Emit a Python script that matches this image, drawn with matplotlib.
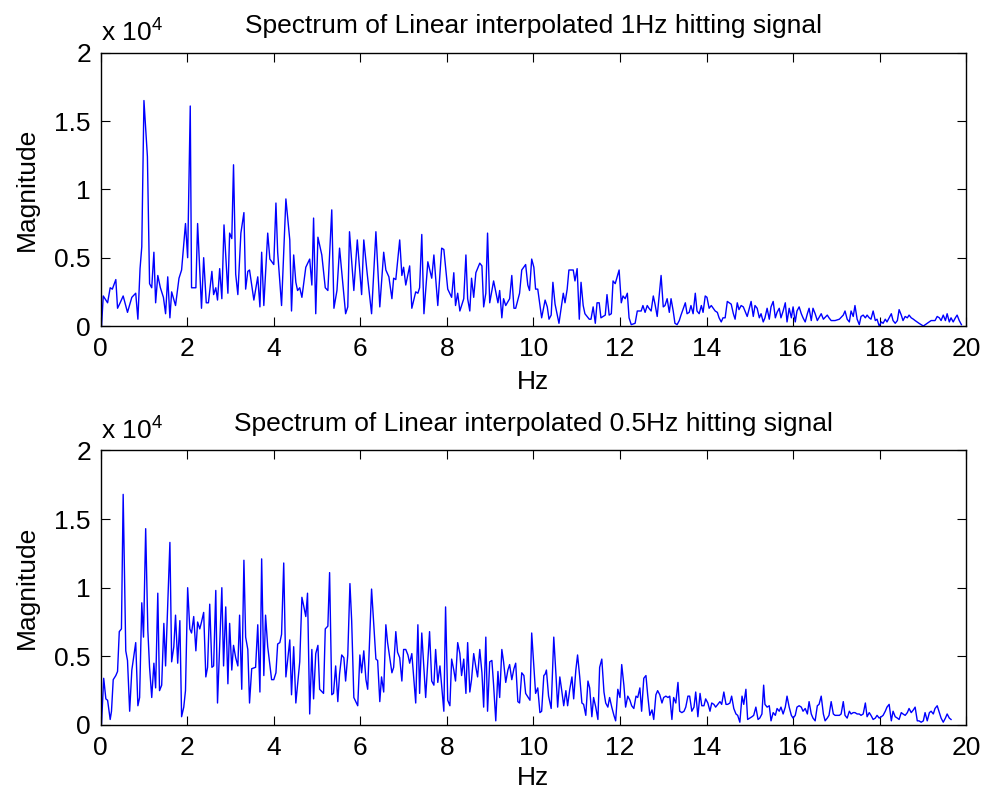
import numpy as np
import matplotlib.pyplot as plt

plt.rcParams['font.family'] = ['Liberation Sans', 'DejaVu Sans']
plt.rcParams['mathtext.fontset'] = 'custom'
plt.rcParams['mathtext.rm'] = 'Liberation Sans'

# spectrum of the 1 Hz signal: frequency [Hz] and magnitude [x 1e4]
top_hz = [
    0.02, 0.06, 0.16, 0.22, 0.27, 0.35, 0.39, 0.45, 0.52, 0.62,
    0.72, 0.81, 0.86, 0.91, 0.95, 1.00, 1.08, 1.13, 1.18, 1.23,
    1.27, 1.32, 1.38, 1.45, 1.50, 1.55, 1.60, 1.64, 1.73, 1.81,
    1.87, 1.96, 2.01, 2.07, 2.10, 2.20, 2.24, 2.33, 2.38, 2.44,
    2.49, 2.57, 2.61, 2.66, 2.70, 2.75, 2.80, 2.85, 2.94, 2.98,
    3.03, 3.07, 3.12, 3.17, 3.24, 3.31, 3.35, 3.40, 3.44, 3.54,
    3.63, 3.68, 3.72, 3.77, 3.86, 3.91, 4.00, 4.05, 4.09, 4.18,
    4.28, 4.37, 4.41, 4.46, 4.51, 4.55, 4.60, 4.65, 4.74, 4.83,
    4.88, 4.92, 4.97, 5.02, 5.11, 5.19,
    5.25, 5.34, 5.39, 5.46, 5.52, 5.60, 5.66, 5.71, 5.75, 5.85,
    5.93, 6.03, 6.08, 6.16, 6.26, 6.36, 6.45, 6.54, 6.59, 6.66,
    6.73, 6.77, 6.82, 6.91, 6.96, 7.00, 7.05, 7.14, 7.19, 7.28,
    7.33, 7.37, 7.42, 7.47, 7.56, 7.65, 7.70, 7.79, 7.88, 7.93,
    8.02, 8.11, 8.16, 8.20, 8.25, 8.30, 8.39, 8.44, 8.48, 8.53,
    8.57, 8.62, 8.67, 8.76, 8.81, 8.85, 8.90, 8.94, 8.99, 9.08,
    9.18, 9.22, 9.27, 9.31, 9.36, 9.45, 9.50, 9.55, 9.59, 9.68,
    9.73, 9.82, 9.87, 9.91, 9.96, 10.01, 10.05, 10.10, 10.19, 10.27,
    10.32, 10.36, 10.41, 10.45, 10.50, 10.59, 10.69, 10.73, 10.78, 10.82,
    10.92, 10.96, 11.01, 11.06, 11.10, 11.15, 11.19, 11.29, 11.33, 11.38,
    11.43, 11.47, 11.52, 11.56, 11.66, 11.70, 11.75, 11.80, 11.84, 11.89,
    11.98, 12.03, 12.07, 12.12, 12.17, 12.21, 12.26, 12.35, 12.40, 12.49,
    12.53, 12.58, 12.63, 12.67, 12.72, 12.77, 12.81, 12.86, 12.95, 13.00,
    13.04, 13.09, 13.14, 13.18, 13.23, 13.27, 13.32, 13.37, 13.41, 13.51,
    13.55, 13.60, 13.64, 13.69, 13.74, 13.78, 13.83, 13.88, 13.92, 13.97,
    14.01, 14.06, 14.11, 14.20, 14.25, 14.29, 14.34, 14.38, 14.43, 14.48,
    14.57, 14.62, 14.66, 14.71, 14.75, 14.80, 14.85, 14.94, 15.03, 15.08,
    15.12, 15.17, 15.22, 15.26, 15.31, 15.35,
    15.40, 15.45, 15.49, 15.54, 15.59, 15.63, 15.68, 15.72, 15.77, 15.82,
    15.86, 15.91, 15.96, 16.00, 16.05, 16.09, 16.14, 16.19, 16.23, 16.28,
    16.33, 16.37, 16.42, 16.46, 16.51, 16.56, 16.65, 16.70, 16.79, 16.83,
    16.88, 16.97, 17.07, 17.16, 17.20, 17.25, 17.30, 17.34, 17.39, 17.43,
    17.48, 17.53, 17.57, 17.62, 17.67, 17.71, 17.76, 17.80, 17.85, 17.90,
    17.94, 17.99, 18.04, 18.08, 18.13, 18.17, 18.22, 18.27, 18.31, 18.36,
    18.41, 18.45, 18.50, 18.54, 18.59, 18.64, 18.68, 18.73, 18.78, 18.82,
    18.91, 19.01, 19.10, 19.19, 19.28, 19.33, 19.38, 19.42, 19.47, 19.52,
    19.56, 19.61, 19.65, 19.70, 19.75, 19.79, 19.84, 19.89,
]
top_mag = [
    0.00, 0.22, 0.17, 0.28, 0.27, 0.34, 0.13, 0.17, 0.22, 0.10,
    0.21, 0.24, 0.05, 0.42, 0.58, 1.65, 1.24, 0.31, 0.28, 0.54,
    0.17, 0.37, 0.28, 0.21, 0.09, 0.36, 0.06, 0.25, 0.15, 0.35,
    0.41, 0.75, 0.50, 1.61, 0.28, 0.28, 0.75, 0.13, 0.50, 0.17,
    0.17, 0.40, 0.23, 0.28, 0.19, 0.42, 0.20, 0.74, 0.24, 0.68,
    0.64, 1.18, 0.38, 0.23, 0.68, 0.83, 0.27, 0.40, 0.41, 0.19,
    0.36, 0.14, 0.54, 0.15, 0.68, 0.49, 0.45, 0.90, 0.54, 0.15,
    0.93, 0.63, 0.11, 0.52, 0.32, 0.26, 0.28, 0.21, 0.43, 0.49,
    0.30, 0.79, 0.09, 0.65, 0.52, 0.28,
    0.26, 0.85, 0.13, 0.26, 0.57, 0.30, 0.09, 0.14, 0.69, 0.26,
    0.63, 0.23, 0.63, 0.38, 0.09, 0.69, 0.14, 0.54, 0.41, 0.36,
    0.20, 0.35, 0.34, 0.63, 0.37, 0.43, 0.30, 0.44, 0.13, 0.25,
    0.24, 0.28, 0.67, 0.09, 0.47, 0.35, 0.52, 0.15, 0.57, 0.56,
    0.27, 0.21, 0.39, 0.15, 0.24, 0.11, 0.20, 0.52, 0.20, 0.11,
    0.35, 0.21, 0.39, 0.46, 0.44, 0.14, 0.24, 0.68, 0.17, 0.33,
    0.17, 0.26, 0.06, 0.20, 0.15, 0.20, 0.37, 0.13, 0.13, 0.24,
    0.41, 0.45, 0.30, 0.26, 0.49, 0.43, 0.27, 0.27, 0.06, 0.19,
    0.14, 0.05, 0.08, 0.32, 0.16, 0.02, 0.24, 0.17, 0.27, 0.41,
    0.41, 0.33, 0.42, 0.05, 0.32, 0.15, 0.09, 0.05, 0.05, 0.14,
    0.02, 0.17, 0.17, 0.06, 0.08, 0.23, 0.08, 0.09, 0.33, 0.31,
    0.41, 0.17, 0.22, 0.20, 0.24, 0.06, 0.01, 0.02, 0.11, 0.11,
    0.15, 0.10, 0.15, 0.13, 0.11, 0.22, 0.16, 0.07, 0.37, 0.14,
    0.15, 0.20, 0.10, 0.20, 0.11, 0.02, 0.01, 0.04, 0.08, 0.17,
    0.09, 0.10, 0.15, 0.09, 0.24, 0.11, 0.09, 0.15, 0.10, 0.22,
    0.21, 0.13, 0.15, 0.11, 0.10, 0.06, 0.03, 0.06, 0.06, 0.18,
    0.16, 0.09, 0.05, 0.17, 0.12, 0.15, 0.14, 0.07, 0.18, 0.07,
    0.15, 0.13, 0.06, 0.09, 0.03, 0.06,
    0.13, 0.05, 0.14, 0.18, 0.06, 0.10, 0.13, 0.06, 0.11, 0.17,
    0.03, 0.13, 0.06, 0.14, 0.03, 0.11, 0.14, 0.09, 0.06, 0.03,
    0.09, 0.13, 0.04, 0.13, 0.09, 0.04, 0.09, 0.05, 0.08, 0.06,
    0.04, 0.04, 0.05, 0.08, 0.11, 0.05, 0.03, 0.11, 0.07, 0.15,
    0.05, 0.01, 0.07, 0.08, 0.06, 0.08, 0.06, 0.05, 0.11, 0.04,
    0.05, 0.00, 0.03, 0.02, 0.05, 0.03, 0.06, 0.09, 0.04, 0.02,
    0.04, 0.12, 0.08, 0.04, 0.07, 0.06, 0.08, 0.06, 0.05, 0.04,
    0.02, 0.00, 0.02, 0.04, 0.04, 0.07, 0.06, 0.04, 0.08, 0.04,
    0.09, 0.03, 0.06, 0.03, 0.06, 0.08, 0.04, 0.01,
]

# spectrum of the 0.5 Hz signal
bot_hz = [
    0.02, 0.07, 0.12, 0.16, 0.22, 0.25, 0.29, 0.35, 0.39, 0.43,
    0.48, 0.52, 0.58, 0.62, 0.67, 0.72, 0.81, 0.86, 0.90, 0.95,
    0.99, 1.04, 1.09, 1.13, 1.18, 1.23, 1.27, 1.32, 1.36, 1.41,
    1.46, 1.50, 1.60, 1.64, 1.69, 1.73, 1.78, 1.83, 1.87, 1.92,
    1.96, 2.01, 2.06, 2.10, 2.15, 2.20, 2.24, 2.29, 2.33, 2.38,
    2.43, 2.47, 2.52, 2.57, 2.61, 2.66, 2.70, 2.80, 2.84, 2.89,
    2.94, 2.98, 3.03, 3.07, 3.12, 3.17, 3.21, 3.26, 3.31, 3.35,
    3.40, 3.44, 3.49, 3.58, 3.63, 3.68, 3.72, 3.77, 3.81, 3.86,
    3.95, 4.00, 4.05, 4.09, 4.14, 4.18, 4.23, 4.28, 4.37, 4.41,
    4.46, 4.51, 4.60, 4.65, 4.69, 4.74, 4.78, 4.83, 4.88, 4.92,
    4.97, 5.02, 5.06, 5.15, 5.19,
    5.25, 5.29, 5.34, 5.38, 5.43, 5.48, 5.52, 5.57, 5.62, 5.66,
    5.71, 5.76, 5.80, 5.85, 5.94, 5.99, 6.03, 6.08, 6.13, 6.17,
    6.26, 6.36, 6.40, 6.45, 6.49, 6.54, 6.59, 6.63, 6.68, 6.73,
    6.77, 6.82, 6.86, 6.91, 6.96, 7.00, 7.05, 7.10, 7.14, 7.19,
    7.28, 7.33, 7.37, 7.42, 7.51, 7.60, 7.65, 7.70, 7.74, 7.79,
    7.84, 7.93, 7.97, 8.02, 8.07, 8.11, 8.16, 8.20, 8.25, 8.30,
    8.34, 8.39, 8.44, 8.48, 8.53, 8.57, 8.62, 8.67, 8.71, 8.76,
    8.81, 8.85, 8.90, 8.94, 8.99, 9.04, 9.08, 9.13, 9.18, 9.22,
    9.27, 9.31, 9.36, 9.41, 9.45, 9.50, 9.55, 9.59, 9.64, 9.68,
    9.73, 9.78, 9.82, 9.92, 9.96, 10.05, 10.10, 10.15, 10.19, 10.24,
    10.27,
    10.30, 10.35, 10.41, 10.47, 10.52, 10.56, 10.61, 10.65, 10.70, 10.75,
    10.79, 10.84, 10.89, 10.93, 10.98, 11.02, 11.07, 11.12, 11.16, 11.21,
    11.26, 11.30, 11.35, 11.39, 11.44, 11.49, 11.53, 11.58, 11.63, 11.67,
    11.72, 11.76, 11.81, 11.86, 11.90, 11.95, 12.00, 12.04, 12.09, 12.13,
    12.18, 12.23, 12.27, 12.32, 12.37, 12.41, 12.46, 12.50, 12.55, 12.60,
    12.64, 12.69, 12.74, 12.78, 12.83, 12.87, 12.92, 12.97, 13.01, 13.06,
    13.11, 13.15, 13.20, 13.24, 13.29, 13.34, 13.38, 13.43, 13.48, 13.52,
    13.57, 13.61, 13.66, 13.71, 13.75, 13.80, 13.85, 13.89, 13.94, 13.98,
    14.03, 14.08, 14.12, 14.17, 14.21, 14.26, 14.31, 14.35, 14.40, 14.45,
    14.49, 14.54, 14.58, 14.63, 14.68, 14.72, 14.77, 14.82, 14.86, 14.91,
    14.95, 15.00, 15.05, 15.09, 15.14, 15.19, 15.23, 15.28, 15.32, 15.35,
    15.40, 15.45, 15.49, 15.54, 15.59, 15.63, 15.68, 15.72, 15.77, 15.82,
    15.86, 15.91, 15.96, 16.00, 16.05, 16.09, 16.14, 16.19, 16.23, 16.28,
    16.33, 16.37, 16.42, 16.46, 16.51, 16.56, 16.60, 16.65, 16.70, 16.74,
    16.79, 16.83, 16.88, 16.93, 16.97, 17.02, 17.07, 17.11, 17.16, 17.20,
    17.25, 17.30, 17.34, 17.39, 17.43, 17.48, 17.53, 17.57, 17.62, 17.67,
    17.71, 17.76, 17.80, 17.85, 17.90, 17.94, 17.99, 18.04, 18.08, 18.13,
    18.17, 18.22, 18.27, 18.31, 18.36, 18.41, 18.45, 18.50, 18.54, 18.59,
    18.64, 18.68, 18.73, 18.78, 18.82, 18.87, 18.91, 18.96, 19.01, 19.05,
    19.10, 19.15, 19.19, 19.24, 19.28, 19.33, 19.38, 19.42, 19.47, 19.52,
    19.56, 19.61, 19.65,
]
bot_mag = [
    0.01, 0.34, 0.19, 0.18, 0.04, 0.10, 0.33, 0.36, 0.39, 0.68,
    0.70, 1.68, 0.54, 0.47, 0.10, 0.40, 0.60, 0.14, 0.20, 0.89,
    0.64, 1.43, 0.69, 0.42, 0.20, 0.45, 0.27, 0.96, 0.25, 0.29,
    0.74, 0.43, 1.33, 0.46, 0.57, 0.80, 0.45, 0.76, 0.06, 0.13,
    0.25, 1.00, 0.70, 0.67, 0.79, 0.54, 0.75, 0.70, 0.75, 0.82,
    0.35, 0.42, 0.88, 0.42, 0.43, 0.98, 0.16, 1.00, 0.43, 0.86,
    0.30, 0.74, 0.40, 0.58, 0.49, 0.43, 0.80, 0.26, 1.20, 0.64,
    0.55, 0.16, 0.41, 0.42, 0.73, 0.24, 1.21, 0.36, 0.80, 0.57,
    0.33, 0.33, 0.38, 0.59, 0.60, 0.66, 1.18, 0.35, 0.62, 0.22,
    0.57, 0.16, 0.46, 0.93, 0.87, 0.79, 0.96, 0.08, 0.55, 0.19,
    0.52, 0.58, 0.26, 0.23, 0.70,
    0.72, 1.11, 0.22, 0.23, 0.43, 0.17, 0.37, 0.51, 0.49, 0.32,
    0.51, 1.03, 0.76, 0.20, 0.14, 0.51, 0.38, 0.54, 0.33, 0.26,
    0.99, 0.48, 0.47, 0.17, 0.35, 0.24, 0.73, 0.60, 0.49, 0.38,
    0.42, 0.68, 0.53, 0.49, 0.32, 0.55, 0.55, 0.51, 0.45, 0.52,
    0.16, 0.73, 0.23, 0.67, 0.20, 0.68, 0.32, 0.29, 0.55, 0.31,
    0.43, 0.10, 0.86, 0.18, 0.14, 0.48, 0.40, 0.32, 0.60, 0.52,
    0.36, 0.48, 0.23, 0.60, 0.24, 0.33, 0.52, 0.42, 0.35, 0.55,
    0.38, 0.13, 0.64, 0.10, 0.46, 0.47, 0.29, 0.03, 0.39, 0.20,
    0.55, 0.46, 0.31, 0.40, 0.44, 0.33, 0.41, 0.45, 0.17, 0.16,
    0.38, 0.36, 0.23, 0.18, 0.67, 0.23, 0.27, 0.09, 0.10, 0.36,
    0.37,
    0.40, 0.21, 0.12, 0.64, 0.37, 0.13, 0.35, 0.26, 0.14, 0.25,
    0.14, 0.26, 0.35, 0.19, 0.40, 0.51, 0.35, 0.16, 0.15, 0.07,
    0.32, 0.27, 0.06, 0.20, 0.13, 0.04, 0.42, 0.48, 0.24, 0.16,
    0.13, 0.20, 0.13, 0.07, 0.03, 0.26, 0.20, 0.44, 0.29, 0.13,
    0.21, 0.18, 0.14, 0.12, 0.21, 0.20, 0.27, 0.10, 0.34, 0.36,
    0.22, 0.07, 0.11, 0.04, 0.22, 0.25, 0.22, 0.16, 0.20, 0.21,
    0.20, 0.21, 0.04, 0.20, 0.16, 0.31, 0.10, 0.09, 0.10, 0.13,
    0.21, 0.21, 0.10, 0.13, 0.24, 0.06, 0.23, 0.14, 0.14, 0.19,
    0.16, 0.10, 0.16, 0.15, 0.13, 0.15, 0.17, 0.15, 0.24, 0.15,
    0.15, 0.16, 0.21, 0.12, 0.08, 0.07, 0.02, 0.21, 0.15, 0.26,
    0.04, 0.05, 0.06, 0.07, 0.13, 0.04, 0.05, 0.08, 0.29, 0.15,
    0.13, 0.14, 0.03, 0.09, 0.07, 0.12, 0.10, 0.13, 0.08, 0.13,
    0.21, 0.13, 0.07, 0.05, 0.07, 0.13, 0.14, 0.13, 0.10, 0.12,
    0.08, 0.17, 0.08, 0.05, 0.03, 0.14, 0.15, 0.21, 0.08, 0.03,
    0.05, 0.07, 0.17, 0.08, 0.07, 0.07, 0.07, 0.08, 0.17, 0.07,
    0.05, 0.10, 0.08, 0.09, 0.09, 0.08, 0.08, 0.07, 0.08, 0.16,
    0.06, 0.09, 0.07, 0.04, 0.05, 0.07, 0.05, 0.06, 0.07, 0.10,
    0.13, 0.15, 0.03, 0.10, 0.06, 0.05, 0.04, 0.09, 0.08, 0.07,
    0.09, 0.12, 0.09, 0.11, 0.13, 0.03, 0.03, 0.02, 0.03, 0.09,
    0.03, 0.09, 0.10, 0.08, 0.12, 0.14, 0.09, 0.05, 0.02, 0.05,
    0.08, 0.05, 0.04,
]

titles = ['Spectrum of Linear interpolated 1Hz hitting signal',
          'Spectrum of Linear interpolated 0.5Hz hitting signal']
xticks = np.arange(0, 21, 2)
yticks = [0, 0.5e4, 1e4, 1.5e4, 2e4]
ytick_labels = ['0', '0.5', '1', '1.5', '2']

fs = 19
fig = plt.figure(figsize=(9.85, 7.95), dpi=100)
ax1 = fig.add_axes([0.1022, 0.5899, 0.8787, 0.3438])
ax2 = fig.add_axes([0.1022, 0.0881, 0.8787, 0.3453])

for ax, hz, mag, title, xlab_y in [(ax1, top_hz, top_mag, titles[0], -0.205),
                                   (ax2, bot_hz, bot_mag, titles[1], -0.195)]:
    ax.plot(hz, np.array(mag) * 1e4, color='#0000ff', lw=1.0)
    ax.set_xlim(0, 20)
    ax.set_ylim(0, 2e4)
    ax.set_xticks(xticks)
    ax.set_yticks(yticks)
    ax.set_yticklabels(ytick_labels)
    ax.tick_params(direction='in', top=True, right=True, length=6.5,
                   width=0.8, labelsize=fs)
    ax.tick_params(axis='x', pad=8)
    ax.tick_params(axis='y', pad=7)
    for sp in ax.spines.values():
        sp.set_linewidth(1.0)
    ax.set_title(title, fontsize=fs, pad=14.2)
    ax.set_xlabel('Hz', fontsize=fs, va='center')
    ax.xaxis.set_label_coords(0.5, xlab_y)
    ax.set_ylabel('Magnitude', fontsize=fs, va='center')
    ax.yaxis.set_label_coords(-0.085, 0.5)
    ax.annotate('x 10$^{4}$', xy=(0, 1), xycoords='axes fraction',
                xytext=(0, 8.6), textcoords='offset points',
                fontsize=fs, ha='left', va='baseline')

fig.savefig('out.png', dpi=100)
